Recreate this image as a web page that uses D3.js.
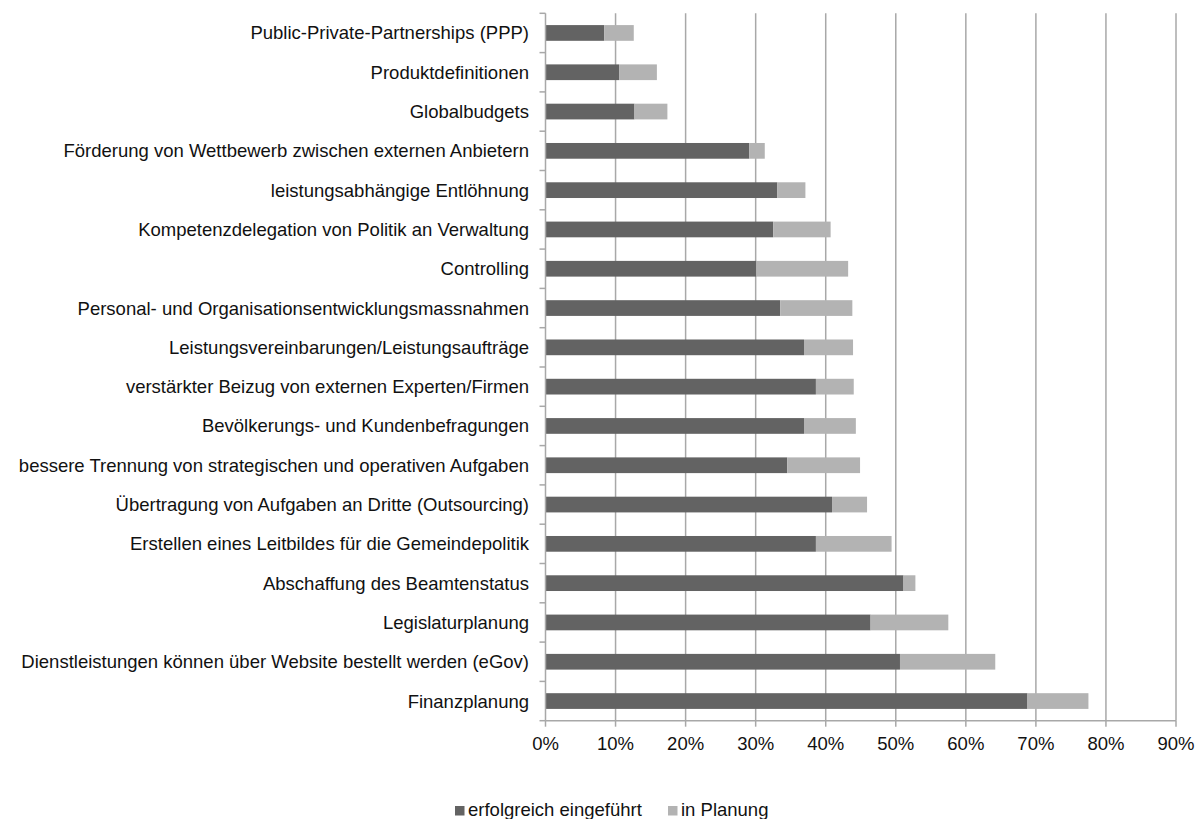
<!DOCTYPE html>
<html>
<head>
<meta charset="utf-8">
<script src="https://cdn.jsdelivr.net/npm/d3@7"></script>
<style>
  body { margin: 0; background: #fff; }
  svg { font-family: "Liberation Sans", Arial, sans-serif; }
</style>
</head>
<body>
<svg width="1197" height="819"></svg>
<script>
var categories = [
  "Public-Private-Partnerships (PPP)",
  "Produktdefinitionen",
  "Globalbudgets",
  "Förderung von Wettbewerb zwischen externen Anbietern",
  "leistungsabhängige Entlöhnung",
  "Kompetenzdelegation von Politik an Verwaltung",
  "Controlling",
  "Personal- und Organisationsentwicklungsmassnahmen",
  "Leistungsvereinbarungen/Leistungsaufträge",
  "verstärkter Beizug von externen Experten/Firmen",
  "Bevölkerungs- und Kundenbefragungen",
  "bessere Trennung von strategischen und operativen Aufgaben",
  "Übertragung von Aufgaben an Dritte (Outsourcing)",
  "Erstellen eines Leitbildes für die Gemeindepolitik",
  "Abschaffung des Beamtenstatus",
  "Legislaturplanung",
  "Dienstleistungen können über Website bestellt werden (eGov)",
  "Finanzplanung"
];

var eingefuehrt = [8.4, 10.5, 12.7, 29.1, 33.1, 32.5, 30.1, 33.5, 36.9, 38.6, 36.9, 34.5, 40.9, 38.6, 51.1, 46.4, 50.6, 68.8];
var planung     = [4.2, 5.4, 4.7, 2.2, 4.0, 8.2, 13.1, 10.3, 7.0, 5.4, 7.4, 10.4, 5.0, 10.8, 1.7, 11.1, 13.6, 8.7];

var seriesNames = ["erfolgreich eingeführt", "in Planung"];
var seriesColors = ["#636363", "#b3b3b3"];
var xTicks = [0, 10, 20, 30, 40, 50, 60, 70, 80, 90];

var svg = d3.select("svg");

var plotLeft = 545.5, plotRight = 1176, plotTop = 13.3, plotBottom = 720.7;
var fontSize = 18.5;
var gridColor = "#a8a8a8";

var x = d3.scaleLinear().domain([0, 90]).range([plotLeft, plotRight]);
var y = d3.scaleBand().domain(categories).range([plotTop, plotBottom])
    .paddingInner(0.6).paddingOuter(0.3);

// gridlines
svg.append("g").attr("class", "grid")
  .selectAll("line")
  .data(xTicks.slice(1))
  .enter().append("line")
    .attr("x1", function(d) { return x(d); })
    .attr("x2", function(d) { return x(d); })
    .attr("y1", plotTop)
    .attr("y2", plotBottom)
    .attr("stroke", gridColor)
    .attr("stroke-width", 1.5);

// stacked bars
var rows = categories.map(function(c, i) {
  return { cat: c, a: eingefuehrt[i], b: planung[i] };
});

var bars = svg.append("g").attr("class", "bars");
bars.selectAll("rect.a")
  .data(rows)
  .enter().append("rect")
    .attr("class", "a")
    .attr("x", x(0))
    .attr("y", function(d) { return y(d.cat); })
    .attr("width", function(d) { return x(d.a) - x(0); })
    .attr("height", y.bandwidth())
    .attr("fill", seriesColors[0]);

bars.selectAll("rect.b")
  .data(rows)
  .enter().append("rect")
    .attr("class", "b")
    .attr("x", function(d) { return x(d.a); })
    .attr("y", function(d) { return y(d.cat); })
    .attr("width", function(d) { return x(d.a + d.b) - x(d.a); })
    .attr("height", y.bandwidth())
    .attr("fill", seriesColors[1]);

// left axis line + ticks between categories
var yAxis = svg.append("g").attr("class", "y-axis");
yAxis.append("line")
  .attr("x1", plotLeft).attr("x2", plotLeft)
  .attr("y1", plotTop).attr("y2", plotBottom)
  .attr("stroke", gridColor).attr("stroke-width", 1.5);

yAxis.selectAll("line.tick")
  .data(d3.range(categories.length + 1))
  .enter().append("line")
    .attr("class", "tick")
    .attr("x1", plotLeft - 6).attr("x2", plotLeft)
    .attr("y1", function(i) { return plotTop + i * y.step(); })
    .attr("y2", function(i) { return plotTop + i * y.step(); })
    .attr("stroke", gridColor).attr("stroke-width", 1.5);

yAxis.selectAll("text")
  .data(categories)
  .enter().append("text")
    .attr("x", 529)
    .attr("y", function(d) { return y(d) + y.bandwidth() / 2; })
    .attr("dy", "0.35em")
    .attr("text-anchor", "end")
    .attr("font-size", fontSize)
    .attr("fill", "#111")
    .text(function(d) { return d; });

// bottom axis
var xAxis = svg.append("g").attr("class", "x-axis");
xAxis.append("line")
  .attr("x1", plotLeft).attr("x2", plotRight)
  .attr("y1", plotBottom).attr("y2", plotBottom)
  .attr("stroke", gridColor).attr("stroke-width", 1.5);

xAxis.selectAll("line.tick")
  .data(xTicks)
  .enter().append("line")
    .attr("class", "tick")
    .attr("x1", function(d) { return x(d); })
    .attr("x2", function(d) { return x(d); })
    .attr("y1", plotBottom).attr("y2", plotBottom + 6)
    .attr("stroke", gridColor).attr("stroke-width", 1.5);

xAxis.selectAll("text")
  .data(xTicks)
  .enter().append("text")
    .attr("x", function(d) { return x(d); })
    .attr("y", 750)
    .attr("text-anchor", "middle")
    .attr("font-size", fontSize)
    .attr("fill", "#111")
    .text(function(d) { return d + "%"; });

// legend
var legendX = [455, 668];
var legend = svg.append("g").attr("class", "legend")
  .selectAll("g")
  .data(seriesNames)
  .enter().append("g")
    .attr("transform", function(d, i) { return "translate(" + legendX[i] + ",806)"; });

legend.append("rect")
  .attr("width", 9.5).attr("height", 9.5)
  .attr("fill", function(d, i) { return seriesColors[i]; });

legend.append("text")
  .attr("x", 13)
  .attr("y", 10)
  .attr("font-size", fontSize)
  .attr("fill", "#111")
  .text(function(d) { return d; });
</script>
</body>
</html>
